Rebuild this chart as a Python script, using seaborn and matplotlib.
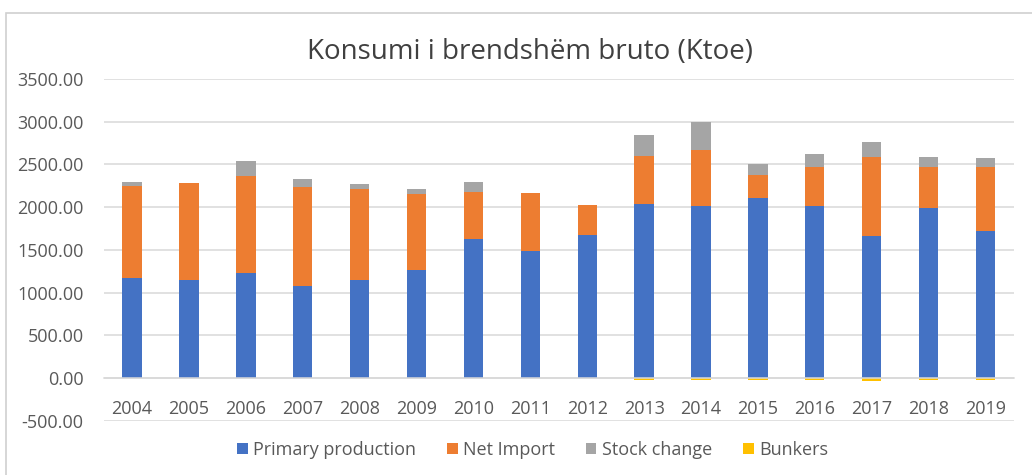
import pandas as pd
import matplotlib.pyplot as plt
import matplotlib.patches as mpatches
import seaborn as sns

# Valori (Ktoe)
years = ['2004', '2005', '2006', '2007', '2008', '2009', '2010', '2011',
         '2012', '2013', '2014', '2015', '2016', '2017', '2018', '2019']
primary_production = [1175, 1143, 1233, 1077, 1147, 1260, 1633, 1482,
                      1672, 2038, 2015, 2104, 2010, 1657, 1987, 1719]
net_import = [1070, 1140, 1135, 1159, 1066, 895, 549, 680,
              350, 564, 649, 268, 460, 929, 483, 751]
stock_change = [50, 0, 167, 94, 58, 58, 113, 0,
                0, 241, 326, 136, 147, 175, 116, 105]
bunkers = [0, 0, 0, 0, 0, 0, 0, 0,
           0, -25, -25, -25, -25, -38, -25, -25]

df = pd.DataFrame({'year': years, 'pp': primary_production, 'ni': net_import,
                   'sc': stock_change, 'bk': bunkers})
df['pp_ni'] = df['pp'] + df['ni']

sns.set_style('white')
plt.rcParams['font.family'] = ['Open Sans', 'DejaVu Sans']

fig = plt.figure(figsize=(10.32, 4.75), dpi=100)
ax = fig.add_axes([0.1005, 0.1137, 0.882, 0.7203])

# cornice del grafico stile Excel
fig.patches.append(mpatches.Rectangle((0.006, -0.1), 1.1, 1.0726, transform=fig.transFigure,
                                      fill=False, edgecolor='#D0D0D0', linewidth=1.2))

w = 0.34
common = dict(width=w, ax=ax, saturation=1, linewidth=0)
sns.barplot(data=df, x='year', y='pp', color='#4472C4', label='Primary production', **common)
sns.barplot(data=df, x='year', y='ni', bottom=df['pp'], color='#ED7D31',
            label='Net Import', **common)
sns.barplot(data=df, x='year', y='sc', bottom=df['pp_ni'], color='#A5A5A5',
            label='Stock change', **common)
sns.barplot(data=df, x='year', y='bk', color='#FFC000', label='Bunkers', **common)

ax.set_ylim(-500, 3500)
ax.set_xlim(-0.5, 15.5)
ax.set_yticks(range(-500, 3501, 500))
ax.set_yticklabels([f'{v:.2f}' for v in range(-500, 3501, 500)])
ax.yaxis.grid(True, color='#D9D9D9', linewidth=1.1)
ax.set_axisbelow(True)
for s in ['top', 'right', 'left']:
    ax.spines[s].set_visible(False)
ax.spines['bottom'].set_position(('data', 0))
ax.spines['bottom'].set_color('#D9D9D9')
ax.spines['bottom'].set_linewidth(1.1)
ax.tick_params(axis='both', length=0, labelsize=13, labelcolor='#595959')
ax.tick_params(axis='x', pad=16)
ax.tick_params(axis='y', pad=14.5)
ax.set_xlabel('')
ax.set_ylabel('')

fig.text(0.514, 0.89, 'Konsumi i brendshëm bruto (Ktoe)', ha='center', va='center',
         fontsize=20, color='#404040')

ax.legend(loc='center', bbox_to_anchor=(0.471, -0.085), bbox_transform=ax.transAxes,
          ncol=4, frameon=False, fontsize=13, handlelength=0.6, handleheight=0.6,
          handletextpad=0.3, columnspacing=1.7, labelcolor='#595959')

fig.savefig('out.png', dpi=100)
